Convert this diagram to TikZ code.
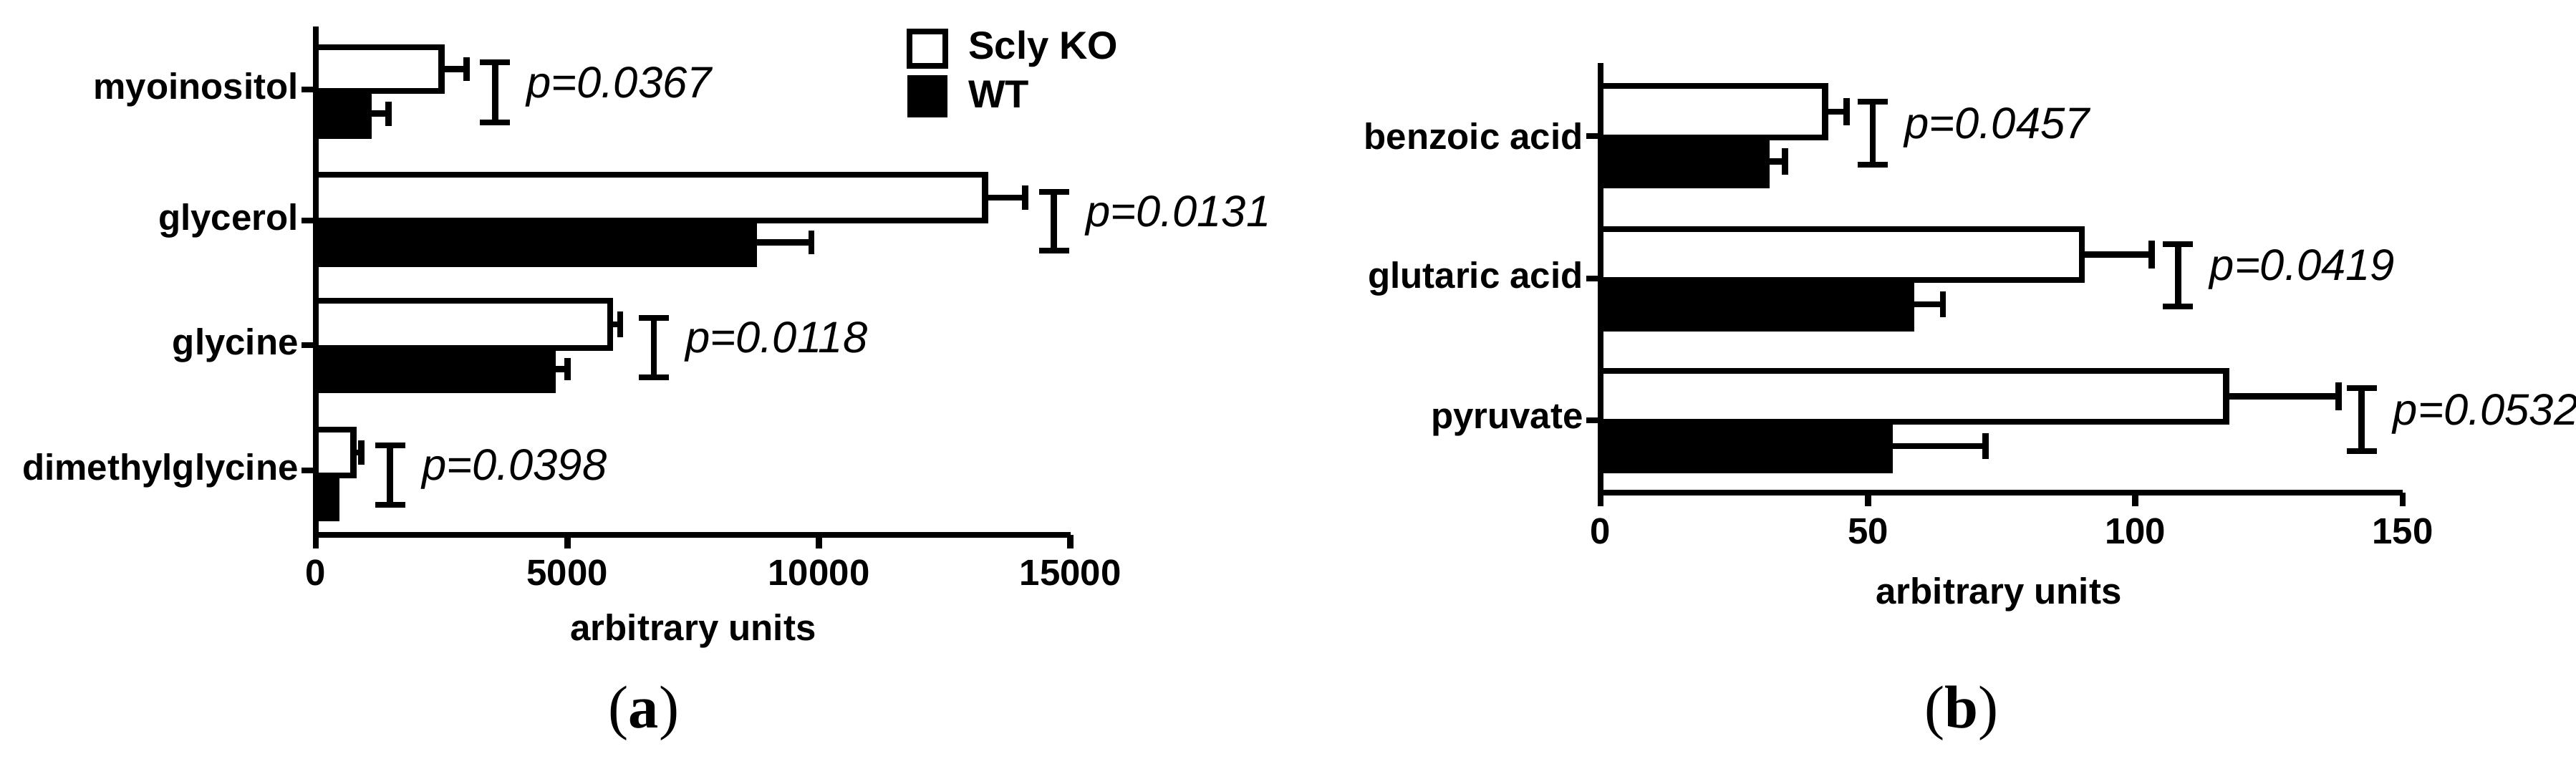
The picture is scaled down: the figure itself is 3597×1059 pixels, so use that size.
\documentclass[tikz,border=0pt]{standalone}
\usepackage{fontspec}
\setmainfont{Liberation Sans}
\newfontfamily\capfont{Liberation Serif}
\begin{document}
\begin{tikzpicture}[x=0.01cm,y=-0.01cm,line width=2.5pt,
  lab/.style={font=\fontsize{14.5}{16}\selectfont\bfseries,anchor=east,inner sep=0pt},
  tlab/.style={font=\fontsize{14.5}{16}\selectfont\bfseries,inner sep=0pt},
  pval/.style={font=\fontsize{17.5}{20}\selectfont\itshape,anchor=west,inner sep=0pt},
  capt/.style={font=\fontsize{24}{28}\selectfont\capfont,inner sep=0pt}]
\useasboundingbox (0,0) rectangle (3597,1059);
% #1 y0, #2 y1, #3 value, #4 err value, #5 fill
\newcommand\hb[5]{%
  \pgfmathsetmacro\xe{\xo+#3*\sc}\pgfmathsetmacro\xr{\xo+#4*\sc}%
  \draw[fill=#5] (\xo,#1) rectangle (\xe,#2);
  \pgfmathsetmacro\ym{(#1+#2)/2}\pgfmathsetmacro\yh{0.27*(#2-#1)}%
  \draw (\xe,\ym) -- (\xr,\ym);
  \draw (\xr,\ym-\yh) -- (\xr,\ym+\yh);}
\newcommand\br[4]{% value, y0, y1, label
  \pgfmathsetmacro\xb{\xo+#1*\sc}%
  \draw (\xb,#2) -- (\xb,#3); \draw (\xb-21,#2) -- (\xb+21,#2); \draw (\xb-21,#3) -- (\xb+21,#3);
  \node[pval] at (\xb+40,{(#2+#3)/2-8}) {#4};}
% ---------- panel a ----------
\def\xo{441}
\pgfmathsetmacro\sc{1054/15000}
\hb{66}{127}{2500}{3000}{white}
\hb{127}{190}{1050}{1450}{black}
\hb{244}{308}{13300}{14100}{white}
\hb{308}{369}{8700}{9850}{black}
\hb{420}{486}{5850}{6050}{white}
\hb{486}{545}{4700}{5000}{black}
\hb{600}{664}{750}{900}{white}
\hb{664}{724}{400}{400}{black}
\draw (441,37) -- (441,747) -- (1495,747);
\foreach \v in {0,5000,10000,15000}{
  \pgfmathsetmacro\xx{441+\v*\sc}
  \draw (\xx,747) -- (\xx,766);
  \node[tlab] at (\xx,800) {\v};}
\foreach \y/\t in {125/myoinositol,308/glycerol,482/glycine,657/dimethylglycine}{
  \draw (421,\y) -- (441,\y);
  \node[lab] at (421,\y) {\t};}
\br{3560}{87}{171}{p=0.0367}
\br{14670}{268}{350}{p=0.0131}
\br{6720}{444}{527}{p=0.0118}
\br{1475}{622}{705}{p=0.0398}
\draw (1270,44) rectangle (1320,92);
\fill (1267,105) rectangle (1323,164);
\node[tlab,anchor=west] at (1348,68) {\fontsize{15.5}{18}\selectfont Scly KO};
\node[tlab,anchor=west] at (1348,132) {\fontsize{15.5}{18}\selectfont WT};
\node[tlab] at (968,881) {arbitrary units};
\node[capt] at (899,996) {(\textbf{a})};
% ---------- panel b ----------
\def\xo{2235}
\pgfmathsetmacro\sc{1120/150}
\hb{120}{192}{42}{46}{white}
\hb{192}{259}{31}{34.5}{black}
\hb{320}{391}{90}{103}{white}
\hb{391}{459}{58}{64}{black}
\hb{518}{589}{117}{138}{white}
\hb{589}{657}{54}{72}{black}
\draw (2235,88) -- (2235,688) -- (3355,688);
\foreach \v in {0,50,100,150}{
  \pgfmathsetmacro\xx{2235+\v*\sc}
  \draw (\xx,688) -- (\xx,707);
  \node[tlab] at (\xx,742) {\v};}
\foreach \y/\t in {190/benzoic acid,389/glutaric acid,587/pyruvate}{
  \draw (2215,\y) -- (2235,\y);
  \node[lab] at (2215,\y) {\t};}
\br{50.9}{142}{230}{p=0.0457}
\br{108}{341}{428}{p=0.0419}
\br{142.3}{542}{630}{p=0.0532}
\node[tlab] at (2791,830) {arbitrary units};
\node[capt] at (2739,996) {(\textbf{b})};
\end{tikzpicture}
\end{document}
